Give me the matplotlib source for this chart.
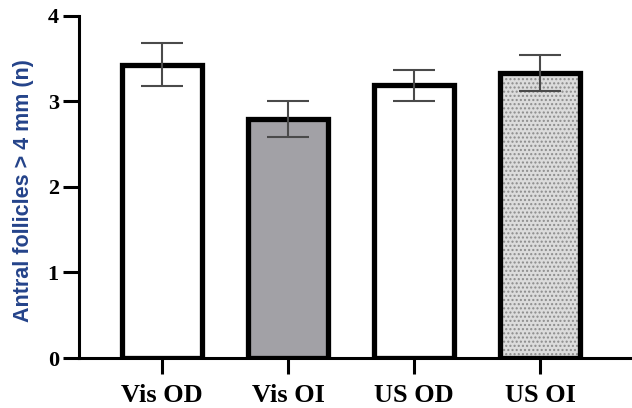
import matplotlib.pyplot as plt

groups = ["Vis OD", "Vis OI", "US OD", "US OI"]
means = [3.43, 2.79, 3.19, 3.33]
sems = [0.25, 0.21, 0.18, 0.21]
fills = ["white", "#a2a1a6", "white", "#dcdcdc"]
hatches = ["", "", "", "...."]

fig = plt.figure(figsize=(6.32, 4.08), dpi=100)
ax = fig.add_axes([0.125, 0.1225, 0.875, 0.8385])

x = range(len(groups))
ax.bar(x, means, width=0.635, color=fills, linewidth=0, zorder=1)
# hatch layer drawn separately so the dots stay grey
for i, h in enumerate(hatches):
    if h:
        ax.bar(i, means[i], width=0.635, color="none", edgecolor="#8c8c8c",
               hatch=h, linewidth=0, zorder=2)
ax.bar(x, means, width=0.635, color="none", edgecolor="black",
       linewidth=3.8, zorder=3)
ax.errorbar(x, means, yerr=sems, fmt="none", ecolor="#4a4a4a",
            elinewidth=1.5, capsize=15, capthick=1.5, zorder=4)

ax.set_xlim(-0.66, 3.73)
ax.set_ylim(0, 4)
ax.set_yticks([0, 1, 2, 3, 4])
ax.set_xticks(list(x))
ax.set_xticklabels(groups)

for s in ["top", "right"]:
    ax.spines[s].set_visible(False)
for s in ["left", "bottom"]:
    ax.spines[s].set_linewidth(2.2)
ax.tick_params(axis="both", width=2.2, length=11.5, color="black")
ax.tick_params(axis="y", pad=3)
ax.tick_params(axis="x", pad=7)

for lab in ax.get_yticklabels():
    lab.set_fontfamily("Liberation Serif")
    lab.set_fontweight("bold")
    lab.set_fontsize(16)
for lab in ax.get_xticklabels():
    lab.set_fontfamily("Liberation Serif")
    lab.set_fontweight("bold")
    lab.set_fontsize(19)

ax.set_ylabel("Antral follicles > 4 mm (n)", fontsize=15.5, color="#24438a",
              fontfamily="Liberation Sans", fontweight="bold")
ax.yaxis.set_label_coords(-0.082, 0.49)

fig.savefig("out.png", dpi=100)
